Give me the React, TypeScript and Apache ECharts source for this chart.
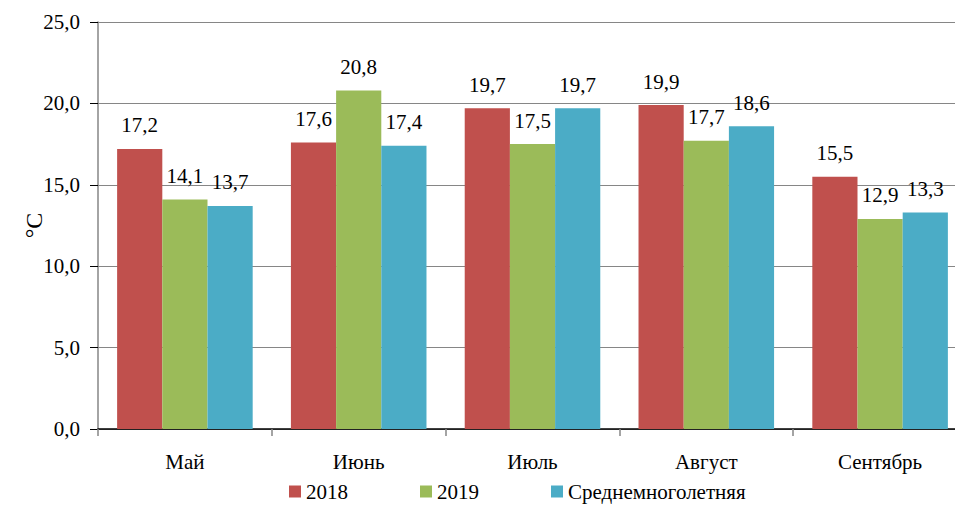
import React, { useEffect, useRef } from "react";
import * as echarts from "echarts";

const categories = ["Май", "Июнь", "Июль", "Август", "Сентябрь"];
const seriesNames = ["2018", "2019", "Среднемноголетняя"];
const values2018 = [17.2, 17.6, 19.7, 19.9, 15.5];
const values2019 = [14.1, 20.8, 17.5, 17.7, 12.9];
const valuesAvg = [13.7, 17.4, 19.7, 18.6, 13.3];
const colors = ["#C0504D", "#9BBB59", "#4BACC6"];

const FONT = "Liberation Serif, Times New Roman, serif";

export default function App() {
  const ref = useRef<HTMLDivElement>(null);
  useEffect(() => {
    if (!ref.current) return;
    const chart = echarts.init(ref.current, null, { renderer: "svg" });
    const fmt = (v: number) => v.toFixed(1).replace(".", ",");
    const data = [values2018, values2019, valuesAvg];
    chart.setOption({
      animation: false,
      textStyle: { fontFamily: FONT },
      grid: { left: 98, top: 22, right: 0, bottom: 82, containLabel: false },
      legend: {
        bottom: 4,
        left: 284,
        itemWidth: 12,
        itemHeight: 12,
        itemGap: 72,
        icon: "rect",
        textStyle: { fontFamily: FONT, fontSize: 21, color: "#000" },
        data: seriesNames,
      },
      xAxis: {
        type: "category",
        data: categories,
        axisLine: { lineStyle: { color: "#000", width: 1.5 } },
        axisTick: { show: true, length: 7, lineStyle: { color: "#868686", width: 1.5 } },
        axisLabel: { fontFamily: FONT, fontSize: 21, color: "#000", margin: 22 },
      },
      yAxis: {
        type: "value",
        min: 0,
        max: 25,
        interval: 5,
        name: "°C",
        nameLocation: "middle",
        nameRotate: 90,
        nameGap: 52,
        nameMoveOverlap: false,
        nameTextStyle: { fontFamily: FONT, fontSize: 24, color: "#000" },
        axisLine: { show: true, lineStyle: { color: "#868686", width: 1.5 } },
        axisTick: { show: true, length: 8, inside: false, lineStyle: { color: "#000", width: 1 } },
        splitLine: { lineStyle: { color: "#868686", width: 1 } },
        axisLabel: { fontFamily: FONT, fontSize: 21, color: "#000", margin: 18, formatter: fmt },
      },
      series: seriesNames.map((name, i) => ({
        name,
        type: "bar",
        data: data[i],
        barGap: "0%",
        barCategoryGap: "22%",
        itemStyle: { color: colors[i] },
        label: {
          show: true,
          position: "top",
          distance: 13,
          fontFamily: FONT,
          fontSize: 21,
          color: "#000",
          formatter: (p: any) => fmt(p.value),
        },
      })),
    });
    return () => chart.dispose();
  }, []);
  return (
    <div
      ref={ref}
      style={{ position: "fixed", left: 0, top: 0, width: 967, height: 511, background: "#fff" }}
    />
  );
}
